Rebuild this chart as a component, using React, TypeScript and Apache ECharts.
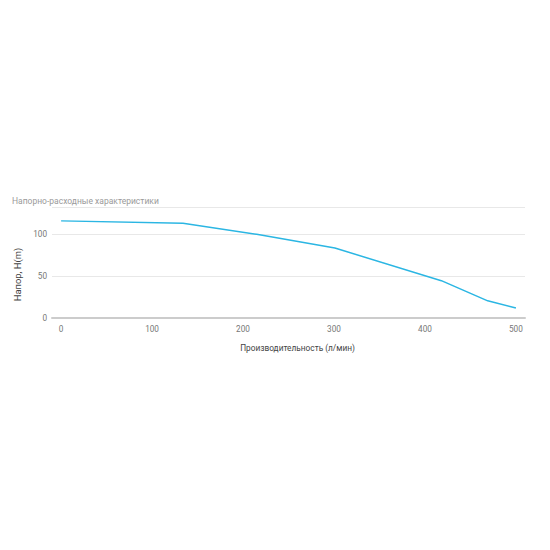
import React, { useEffect, useRef } from "react";
import * as echarts from "echarts";

const flowValues = [0, 134, 215, 301, 418, 469, 500];
const headValues = [115.5, 112.7, 99.5, 83.2, 44.4, 20.4, 12];
const xTickLabels = [0, 100, 200, 300, 400, 500];
const yTickLabels = [0, 50, 100];

const titleText = "Напорно-расходные характеристики";
const xAxisName = "Производительность (л/мин)";
const yAxisName = "Напор, H(m)";

export default function App() {
  const ref = useRef<HTMLDivElement>(null);
  useEffect(() => {
    if (!ref.current) return;
    const chart = echarts.init(ref.current, null, { renderer: "svg" });
    const font = "Roboto, 'Noto Sans', sans-serif";
    chart.setOption({
      animation: false,
      textStyle: { fontFamily: font },
      title: {
        text: titleText,
        left: 7,
        top: 191,
        textStyle: { fontSize: 8.5, fontWeight: "normal", color: "#9a9a9a", fontFamily: font },
      },
      grid: { left: 52, right: 25, top: 207, bottom: 232, containLabel: false },
      xAxis: {
        type: "value",
        min: -10,
        max: 510,
        name: xAxisName,
        nameLocation: "middle",
        nameGap: 26,
        nameTextStyle: { fontSize: 8.3, color: "#444", fontFamily: font, padding: [0, 0, 0, 18] },
        axisLine: { show: true, lineStyle: { color: "#cccccc", width: 2 } },
        axisTick: { show: false },
        splitLine: { show: false },
        axisLabel: {
          customValues: xTickLabels,
          fontSize: 8.2,
          color: "#777",
          margin: 7,
          fontFamily: font,
        },
      },
      yAxis: {
        type: "value",
        min: 0,
        max: 132,
        interval: 50,
        name: yAxisName,
        nameLocation: "middle",
        nameRotate: 90,
        nameGap: 27,
        nameTextStyle: { fontSize: 9.4, color: "#444", fontFamily: font, padding: [0, 24, 0, 0] },
        axisLine: { show: false },
        axisTick: { show: false },
        splitLine: { show: true, lineStyle: { color: "#e8e8e8", width: 1 } },
        axisLabel: {
          customValues: yTickLabels,
          fontSize: 8.2,
          color: "#777",
          margin: 5,
          fontFamily: font,
        },
      },
      series: [
        {
          type: "line",
          data: flowValues.map((x, i) => [x, headValues[i]]),
          showSymbol: false,
          symbol: "none",
          lineStyle: { color: "#2bb6e3", width: 1.5 },
          itemStyle: { color: "#2bb6e3" },
        },
      ],
    });
    return () => chart.dispose();
  }, []);
  return <div ref={ref} style={{ width: 550, height: 550, position: "absolute", left: 0, top: 0 }} />;
}
